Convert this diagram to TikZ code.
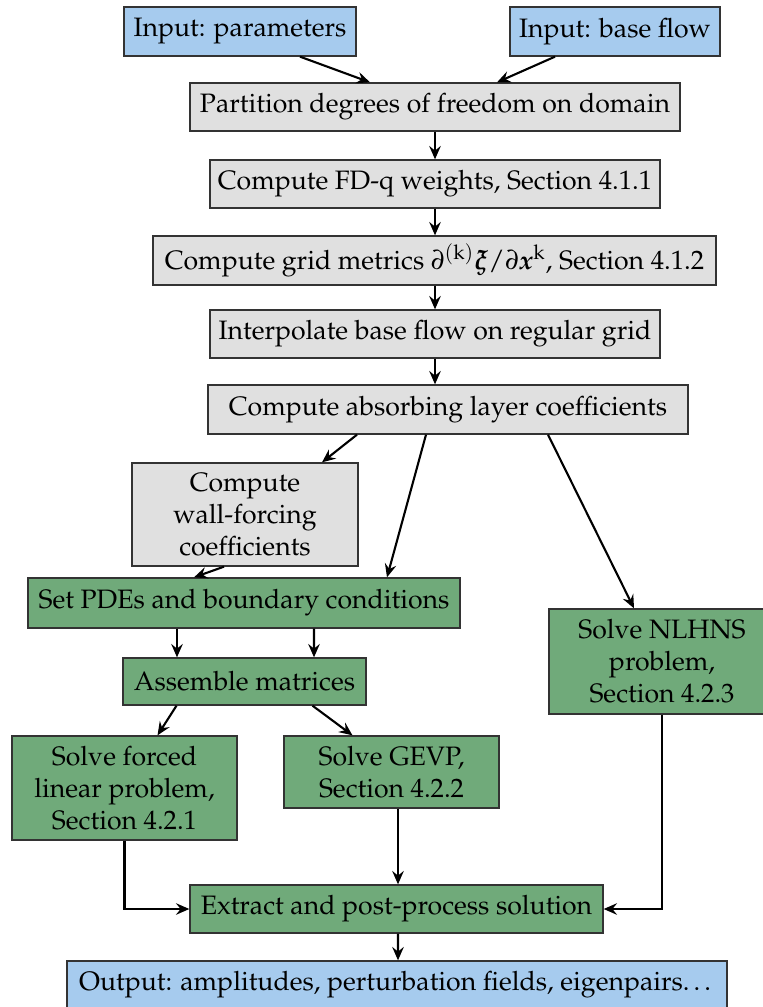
\documentclass[tikz,border=0pt]{standalone}
\usepackage[T1]{fontenc}
\usepackage{mathpazo}
\usepackage{amsmath}
\usepackage{bm}
\usetikzlibrary{arrows.meta,calc}
\newlength\px
\setlength\px{0.381pt}
\definecolor{inblue}{RGB}{166,203,238}
\definecolor{stepgrey}{RGB}{224,224,224}
\definecolor{solvegreen}{RGB}{112,170,122}
\tikzset{
  box/.style={draw=black!80, line width=0.5pt, inner sep=0pt, align=center, font=\fontsize{10.15}{12.2}\selectfont},
  iobox/.style={box, fill=inblue},
  prebox/.style={box, fill=stepgrey},
  solvebox/.style={box, fill=solvegreen},
  flow/.style={draw=black, line width=0.8pt, -{Stealth[length=5.1pt,width=4.4pt,inset=1.8pt]}},
}
\begin{document}
\begin{tikzpicture}[x=0.381pt,y=-0.381pt]
\useasboundingbox (0,0) rectangle (763,1007);
\clip (0,0) rectangle (763,1007);
\node[iobox, minimum width=232\px, minimum height=49\px] (inpar) at (240,31.5) {Input: parameters};
\node[iobox, minimum width=210\px, minimum height=49\px] (inbase) at (615,31.5) {Input: base flow};
\node[prebox, minimum width=490\px, minimum height=48\px] (part) at (435,107) {Partition degrees of freedom on domain};
\node[prebox, minimum width=450\px, minimum height=48\px] (fdq) at (435,184) {Compute FD-q weights, Section 4.1.1};
\node[prebox, minimum width=563\px, minimum height=49\px] (grid) at (434.5,260.5) {Compute grid metrics $\partial^{(\mathrm{k})}\bm{\xi}/\partial\bm{x}^{\mathrm{k}}$, Section 4.1.2};
\node[prebox, minimum width=450\px, minimum height=48\px] (interp) at (435,334) {Interpolate base flow on regular grid};
\node[prebox, minimum width=480\px, minimum height=49\px] (absorb) at (448,409.5) {Compute absorbing layer coefficients};
\node[prebox, minimum width=226\px, minimum height=103\px] (wall) at (245,514.5) {Compute\\wall-forcing\\coefficients};
\node[solvebox, minimum width=432\px, minimum height=50\px] (pdes) at (244,603) {Set PDEs and boundary conditions};
\node[solvebox, minimum width=243\px, minimum height=47\px] (assem) at (244.5,681.5) {Assemble matrices};
\node[solvebox, minimum width=226\px, minimum height=105\px] (nlhns) at (662,661.5) {Solve NLHNS\\problem,\\Section 4.2.3};
\node[solvebox, minimum width=225\px, minimum height=104\px] (forced) at (124.5,788) {Solve forced\\linear problem,\\Section 4.2.1};
\node[solvebox, minimum width=215\px, minimum height=72\px] (gevp) at (391.5,772) {Solve GEVP,\\Section 4.2.2};
\node[solvebox, minimum width=413\px, minimum height=48\px] (extract) at (396.5,909) {Extract and post-process solution};
\node[iobox, minimum width=660\px, minimum height=48\px] (output) at (397,985) {Output: amplitudes, perturbation fields, eigenpairs\ldots};

\draw[flow] ($(inpar.south)+(60,0)$) -- ($(part.north)+(-65,0)$);
\draw[flow] ($(inbase.south)+(-60,0)$) -- ($(part.north)+(62,0)$);
\draw[flow] (part.south) -- (fdq.north);
\draw[flow] (fdq.south) -- (grid.north -| fdq.south);
\draw[flow] (grid.south -| fdq.south) -- (interp.north);
\draw[flow] (interp.south) -- (absorb.north -| interp.south);
\draw[flow] ($(absorb.south)+(-91,0)$) -- ($(wall.north)+(77,0)$);
\draw[flow] ($(absorb.south)+(-22,0)$) -- ($(pdes.north)+(143,0)$);
\draw[flow] ($(absorb.south)+(100,0)$) -- ($(nlhns.north)+(-28,0)$);
\draw[flow] ($(wall.south)+(-21,0)$) -- ($(pdes.north)+(-50,0)$);
\draw[flow] ($(pdes.south)+(-67,0)$) -- ($(assem.north)+(-67.5,0)$);
\draw[flow] ($(pdes.south)+(70,0)$) -- ($(assem.north)+(69.5,0)$);
\draw[flow] ($(assem.south)+(-68,0)$) -- ($(forced.north)+(33,0)$);
\draw[flow] ($(assem.south)+(68,0)$) -- ($(gevp.north)+(-39,0)$);
\draw[flow] (forced.south) |- (extract.west);
\draw[flow] ($(gevp.south)+(6.5,0)$) -- ($(extract.north)+(1.5,0)$);
\draw[flow] (nlhns.south) |- (extract.east);
\draw[flow] ($(extract.south)+(1.5,0)$) -- ($(output.north)+(1,0)$);
\end{tikzpicture}
\end{document}
